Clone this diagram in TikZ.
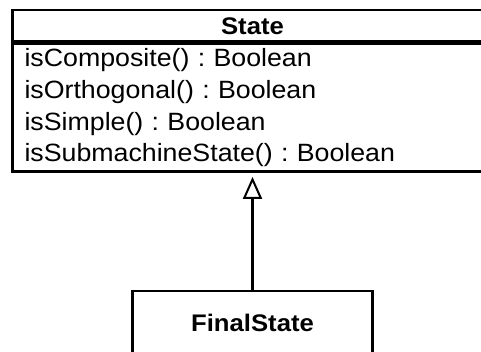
\documentclass[tikz,border=0pt]{standalone}
\usepackage{fontspec}
\setmainfont{Liberation Sans}[FakeStretch=1.07]
\usepackage{tikz}
\usetikzlibrary{positioning}
\usetikzlibrary{arrows.meta}
\frenchspacing

\begin{document}
\begin{tikzpicture}
    [
        x=1pt, y=1pt,
        umlbox/.style={draw, line width=2.6pt, minimum width=480pt, inner sep=0pt,
            font=\fontsize{25}{31.7}\selectfont},
        inherit/.style={line width=2.6pt, shorten >=4pt,
            -{Triangle[open, length=22pt, width=19pt, line width=2pt]}}
    ]
        %FRAME
        \useasboundingbox (0,0) rectangle (481,-351);
        \clip (0,0) rectangle (481,-351);

        %STATE
        \node[umlbox, minimum height=31.5pt, font=\fontsize{24}{31.7}\selectfont\bfseries]
            (state) at (252.5,-25.75) {State};
        \node[umlbox, minimum height=127.5pt, below=0pt of state, text width=456pt,
            align=left, inner xsep=12pt]
            (ops) {isComposite() : Boolean\\
                   isOrthogonal() : Boolean\\
                   isSimple() : Boolean\\
                   isSubmachineState() : Boolean};

        %FINALSTATE
        \node[umlbox, minimum width=240pt, minimum height=63pt,
            font=\fontsize{24}{31.7}\selectfont\bfseries]
            (final) at (252.5,-322.5) {FinalState};

        %GENERALISASI
        \draw[inherit] (final) -- (ops);
    \end{tikzpicture}
\end{document}
